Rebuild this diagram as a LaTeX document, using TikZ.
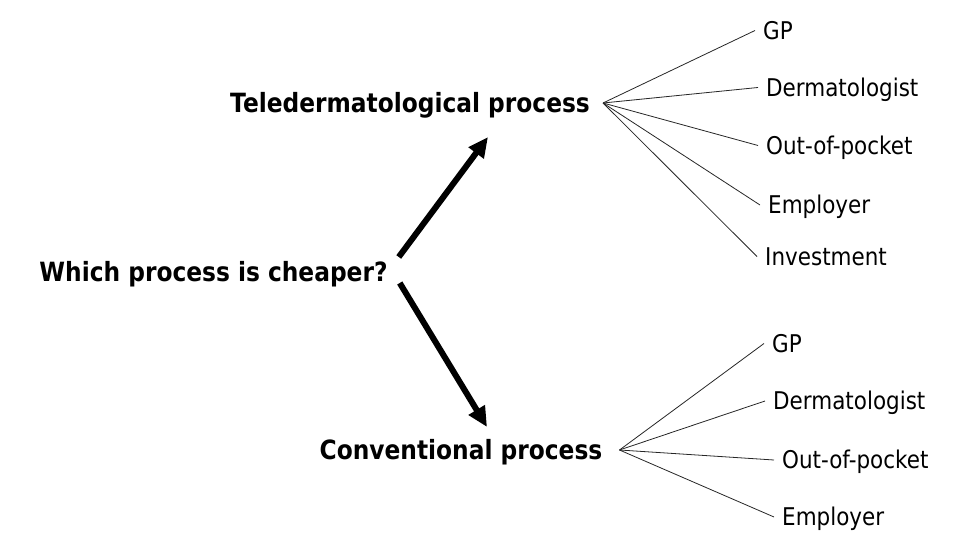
\documentclass[tikz,border=0pt]{standalone}
\usepackage{fontspec}
\setmainfont{DejaVu Sans}[FakeStretch=0.88]
\usepackage{tikz}
\usetikzlibrary{arrows.meta}

\begin{document}
\begin{tikzpicture}[x=1pt, y=-1pt,
    every node/.style={inner ysep=0pt, text depth=0pt},
    proc/.style={font=\fontsize{26.5}{30}\selectfont\bfseries, text height=19.3pt, inner xsep=13pt},
    leaf/.style={anchor=west, font=\fontsize{24.4}{28}\selectfont, text height=17.8pt, inner xsep=8pt},
    bigarrow/.style={line width=6pt, -{Triangle[length=20pt, width=18pt]}},
    fan/.style={line width=0.8pt, black!85}]
    \useasboundingbox (0,0) rectangle (972,534);

    \node (question) at (213.5,272) [proc, inner xsep=4pt] {Which process is cheaper?};
    \node (tele) at (410,103) [proc] {Teledermatological process};
    \node (conv) at (461,450) [proc] {Conventional process};

    \draw[bigarrow] ([shift={(7pt,15pt)}]question.east) -- ([shift={(78pt,-34pt)}]tele.center);
    \draw[bigarrow] ([shift={(8pt,-11pt)}]question.east) -- ([shift={(26pt,23pt)}]conv.center);

    % teledermatological costs
    \node (teleGP) at (755,30.5) [leaf] {GP};
    \node (teleDerm) at (758,87.5) [leaf] {Dermatologist};
    \node (teleOut) at (758,145.5) [leaf] {Out-of-pocket};
    \node (teleEmp) at (760,205) [leaf] {Employer};
    \node (teleInv) at (757,256.5) [leaf] {Investment};

    \foreach \cost in {teleGP, teleDerm, teleOut, teleEmp, teleInv}
        \draw[fan] (tele.east) -- (\cost.west);

    % conventional costs
    \node (convGP) at (764,343.5) [leaf] {GP};
    \node (convDerm) at (765,401) [leaf] {Dermatologist};
    \node (convOut) at (774,460) [leaf] {Out-of-pocket};
    \node (convEmp) at (774,517) [leaf] {Employer};

    \foreach \cost in {convGP, convDerm, convOut, convEmp}
        \draw[fan] ([xshift=4pt]conv.east) -- (\cost.west);
\end{tikzpicture}
\end{document}
